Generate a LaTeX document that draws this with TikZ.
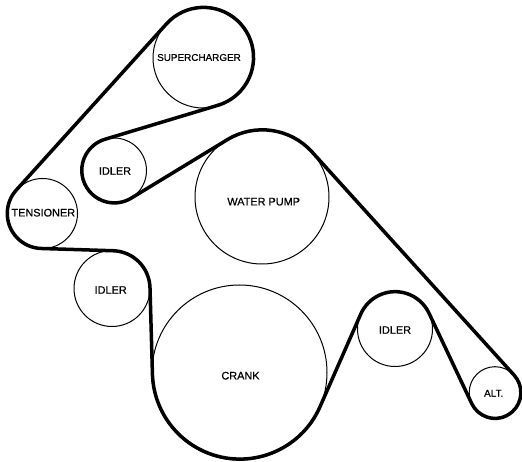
\documentclass[tikz,border=0pt]{standalone}
\usepackage{fontspec}
\setmainfont{Liberation Sans}[FakeBold=0.6]
\usepackage{tikz}
\tikzset{
  pulley/.style={circle,draw,line width=1pt,inner sep=0pt,outer sep=0pt,minimum size=#1},
  pulleylabel/.style={inner sep=0pt,font=\fontsize{10.9}{13}\selectfont},
  belt/.style={line width=3.5pt,line join=round}
}
\begin{document}
\begin{tikzpicture}[x=1pt,y=1pt]
\useasboundingbox (0,0) rectangle (522,461);
\node[pulley=100pt] (supercharger) at (203,403) {};
\node[pulley=65pt] (idlertop) at (114,290.5) {};
\node[pulley=134pt] (waterpump) at (262,264) {};
\node[pulley=70pt] (tensioner) at (42.5,247.5) {};
\node[pulley=76pt] (idlerleft) at (112,172.5) {};
\node[pulley=175pt] (crank) at (239.5,88.5) {};
\node[pulley=75pt] (idlerright) at (395,132) {};
\node[pulley=51.6pt] (alt) at (495,68.5) {};
\node[pulleylabel,font=\fontsize{9.9}{12}\selectfont] (superchargerlabel) at (199,403.5) {SUPERCHARGER};
\node[pulleylabel] (idlertoplabel) at (115,290) {IDLER};
\node[pulleylabel] (waterpumplabel) at (263.7,259.3) {WATER PUMP};
\node[pulleylabel] (tensionerlabel) at (43.3,248.3) {TENSIONER};
\node[pulleylabel] (idlerleftlabel) at (110.7,171) {IDLER};
\node[pulleylabel] (cranklabel) at (240.5,85.3) {CRANK};
\node[pulleylabel] (idlerrightlabel) at (395,131) {IDLER};
\node[pulleylabel,font=\fontsize{10}{12}\selectfont] (altlabel) at (493.7,67.7) {ALT.};
\draw[belt] (supercharger.137.94) arc[start angle=137.94,end angle=-73.46,radius=50pt]
  -- (idlertop.106.54) arc[start angle=106.54,end angle=301.28,radius=32.5pt]
  -- (waterpump.121.28) arc[start angle=121.28,end angle=42.21,radius=67pt]
  -- (alt.42.21) arc[start angle=42.21,end angle=-154.72,radius=25.8pt]
  -- (idlerright.25.28) arc[start angle=25.28,end angle=156.35,radius=37.5pt]
  -- (crank.-23.65) arc[start angle=-23.65,end angle=-178.66,radius=87.5pt]
  -- (idlerleft.1.34) arc[start angle=1.34,end angle=88.37,radius=38pt]
  -- (tensioner.268.37) arc[start angle=268.37,end angle=137.94,radius=35pt]
  -- cycle;
\end{tikzpicture}
\end{document}
